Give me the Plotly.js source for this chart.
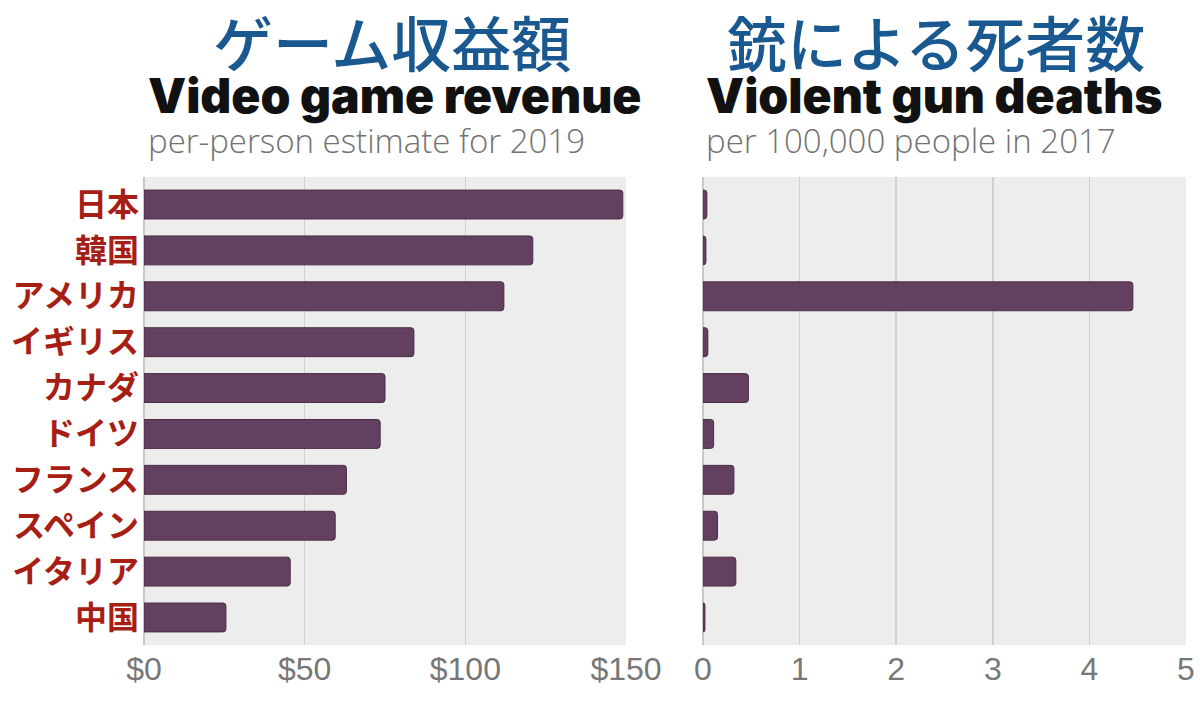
<!DOCTYPE html>
<html>
<head>
<meta charset="utf-8">
<script src="https://cdn.plot.ly/plotly-3.0.1.min.js"></script>
<style>html,body{margin:0;padding:0;background:#fff;}#chart{width:1200px;height:702px;}</style>
</head>
<body>
<div id="chart"></div>
<script>
const countries = ["日本","韓国","アメリカ","イギリス","カナダ","ドイツ","フランス","スペイン","イタリア","中国"];
const gameRevenue = [149, 121, 112, 84, 75, 73.5, 63, 59.5, 45.5, 25.5];
const gunDeaths = [0.04, 0.03, 4.45, 0.05, 0.47, 0.11, 0.32, 0.15, 0.34, 0.02];
const revenueTicks = [0, 50, 100, 150];
const revenueTickText = ["$0", "$50", "$100", "$150"];
const deathTicks = [0, 1, 2, 3, 4, 5];
const deathTickText = ["0", "1", "2", "3", "4", "5"];

const barColor = "#644060";
const barLine = "#4a2d47";

const traces = [
  {type:"bar", orientation:"h", y:countries, x:gameRevenue, xaxis:"x", yaxis:"y",
   marker:{color:barColor, line:{color:barLine, width:1}}, hoverinfo:"x+y"},
  {type:"bar", orientation:"h", y:countries, x:gunDeaths, xaxis:"x2", yaxis:"y2",
   marker:{color:barColor, line:{color:barLine, width:1}}, hoverinfo:"x+y"}
];

const W = 1200, H = 702;
const tickFont = {family:"Liberation Sans, Arial, sans-serif", size:32, color:"#777777"};
const gridC = "#cfcfcf";
const subFont = {family:"Open Sans, sans-serif", size:33, color:"#727272", weight:300};
const headFont = {family:"Inter, sans-serif", size:48, color:"#111111", weight:900};
const jpFont = {family:"Noto Sans CJK JP, sans-serif", size:60, color:"#1a5890", weight:500};

const layout = {
  width:W, height:H,
  margin:{l:0, r:0, t:0, b:0, autoexpand:false},
  paper_bgcolor:"#ffffff",
  plot_bgcolor:"#ededed",
  showlegend:false,
  bargap:0.37,
  barcornerradius:3,
  xaxis:{domain:[144/W, 626/W], range:[0,150], tickvals:revenueTicks, ticktext:revenueTickText,
    showgrid:true, gridcolor:gridC, gridwidth:1.5, zeroline:true, zerolinecolor:"#c8c8c8", zerolinewidth:2,
    tickfont:tickFont, ticks:"", fixedrange:true, ticklabelstandoff:2, anchor:"y"},
  yaxis:{domain:[(H-645)/H, (H-177)/H], range:[9.6,-0.6], type:"category", categoryorder:"array", categoryarray:countries,
    showgrid:false, zeroline:false, ticks:"", anchor:"x",
    tickfont:{family:"Noto Sans CJK JP, sans-serif", size:32, color:"#a61e14", weight:700}, ticklabelstandoff:4, fixedrange:true},
  xaxis2:{domain:[703/W, 1186/W], range:[0,5], tickvals:deathTicks, ticktext:deathTickText,
    showgrid:true, gridcolor:gridC, gridwidth:1.5, zeroline:true, zerolinecolor:"#c8c8c8", zerolinewidth:2,
    tickfont:tickFont, ticks:"", fixedrange:true, ticklabelstandoff:2, anchor:"y2"},
  yaxis2:{domain:[(H-645)/H, (H-177)/H], range:[9.6,-0.6], type:"category", categoryorder:"array", categoryarray:countries,
    showgrid:false, zeroline:false, showticklabels:false, ticks:"", anchor:"x2", fixedrange:true},
  annotations:[
    {text:"ゲーム収益額", xref:"paper", yref:"paper", x:392/W, y:1-41/H, xanchor:"center", yanchor:"middle", showarrow:false, font:jpFont},
    {text:"Video game revenue", xref:"paper", yref:"paper", x:146/W, y:1-95/H, xanchor:"left", yanchor:"middle", showarrow:false, font:headFont},
    {text:"per-person estimate for 2019", xref:"paper", yref:"paper", x:146/W, y:1-141/H, xanchor:"left", yanchor:"middle", showarrow:false, font:subFont},
    {text:"銃による死者数", xref:"paper", yref:"paper", x:936/W, y:1-41/H, xanchor:"center", yanchor:"middle", showarrow:false, font:jpFont},
    {text:"Violent gun deaths", xref:"paper", yref:"paper", x:704/W, y:1-95/H, xanchor:"left", yanchor:"middle", showarrow:false, font:headFont},
    {text:"per 100,000 people in 2017", xref:"paper", yref:"paper", x:704/W, y:1-141/H, xanchor:"left", yanchor:"middle", showarrow:false, font:subFont}
  ]
};

Plotly.newPlot("chart", traces, layout, {displayModeBar:false, staticPlot:true});
</script>
</body>
</html>
